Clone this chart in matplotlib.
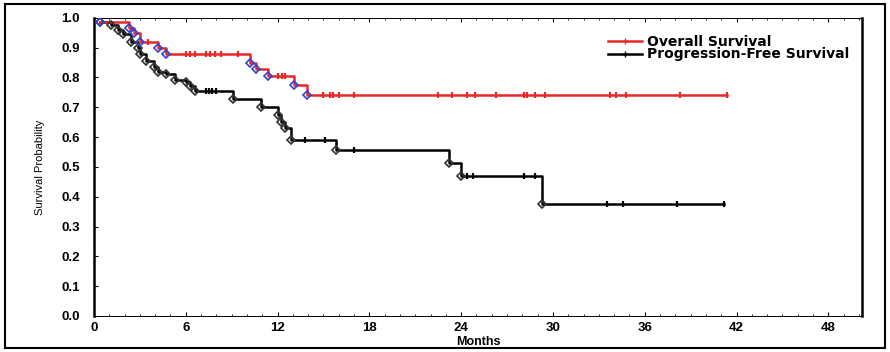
import numpy as np
import matplotlib
matplotlib.use('Agg')
import matplotlib.pyplot as plt
from matplotlib.patches import Rectangle
from matplotlib.lines import Line2D

# Overall survival: event times (months) and survival after each event
os_times = [0.4, 2.3, 2.6, 3.0, 4.2, 4.7, 10.2, 10.6, 11.4, 13.1, 13.9]
os_surv = [0.985, 0.965, 0.95, 0.92, 0.90, 0.88, 0.85, 0.83, 0.805, 0.775, 0.74]
os_censored = [3.5, 6.0, 6.3, 6.6, 7.3, 7.6, 7.9, 8.3, 9.4, 12.0, 12.3, 12.5,
               15.0, 15.45, 15.65, 16.0, 17.0, 22.5, 23.4, 24.4, 24.9, 26.3,
               28.1, 28.3, 28.8, 29.5, 33.7, 34.1, 34.8, 38.3, 41.4]

# Progression-free survival
pfs_times = [0.4, 1.1, 1.6, 1.9, 2.4, 2.9, 3.0, 3.4, 3.9, 4.2, 4.7, 5.3, 6.0,
             6.3, 6.6, 9.1, 10.9, 12.0, 12.2, 12.5, 12.9, 15.8, 23.2, 24.0, 29.3]
pfs_surv = [0.987, 0.975, 0.96, 0.945, 0.92, 0.90, 0.88, 0.855, 0.835, 0.82,
            0.81, 0.79, 0.785, 0.77, 0.753, 0.728, 0.70, 0.675, 0.65, 0.63,
            0.59, 0.557, 0.514, 0.47, 0.376]
pfs_censored = [7.3, 7.5, 7.7, 8.0, 13.8, 15.1, 17.0, 24.4, 24.8, 28.1, 28.8,
                33.5, 34.6, 38.1, 41.2]

x_ticks = [0, 6, 12, 18, 24, 30, 36, 42, 48]
y_ticks = [0.0, 0.1, 0.2, 0.3, 0.4, 0.5, 0.6, 0.7, 0.8, 0.9, 1.0]


def surv_at(times, surv, t):
    idx = np.searchsorted(times, t, side='right') - 1
    return np.array(surv)[idx]


def draw_curve(ax, times, surv, censored, color, event_color):
    end = max(max(censored), times[-1])
    xs = list(times) + [end]
    ys = list(surv) + [surv[-1]]
    ax.step(xs, ys, where='post', color=color, lw=1.8, zorder=3)
    ax.plot(censored, surv_at(times, surv, censored), ls='none', marker='|',
            ms=5, mew=1.6, color=color, zorder=4)
    ax.plot(times, surv, ls='none', marker='D', ms=4.5, mfc='none',
            mec=event_color, mew=1.2, zorder=5)


fig = plt.figure(figsize=(8.9, 3.52), dpi=100)
ax = fig.add_axes([0.1056, 0.1023, 0.863, 0.847])

draw_curve(ax, pfs_times, pfs_surv, pfs_censored, 'black', '#333333')
draw_curve(ax, os_times, os_surv, os_censored, '#e82828', '#3344cc')

ax.set_xlim(0, 50.2)
ax.set_ylim(0, 1.0)
ax.set_xticks(x_ticks)
ax.set_yticks(y_ticks)
ax.set_yticklabels([f'{v:.1f}' for v in y_ticks])
ax.set_xticks(np.arange(0, 50.2, 1), minor=True)
ax.tick_params(axis='both', which='major', direction='in', length=3,
               labelsize=9.5, top=True)
ax.tick_params(axis='y', which='major', pad=10)
ax.tick_params(axis='x', which='major', pad=4)
ax.tick_params(axis='x', which='minor', direction='in', length=1.5, top=True)
for lab in ax.get_xticklabels() + ax.get_yticklabels():
    lab.set_fontweight('bold')
    lab.set_family('Liberation Sans')

ax.spines['left'].set_linewidth(1.8)
ax.spines['right'].set_linewidth(1.8)
ax.spines['top'].set_linewidth(0.7)
ax.spines['bottom'].set_linewidth(0.7)

ax.set_xlabel('Months', fontsize=9, fontweight='bold',
              family='Liberation Sans', labelpad=2)
ax.set_ylabel('Survival Probability', fontsize=8,
              family=['Liberation Sans Narrow', 'Liberation Sans'], labelpad=12)

handles = [Line2D([0], [0], color='#e82828', marker='+', ms=5, lw=1.8),
           Line2D([0], [0], color='black', marker='+', ms=5, lw=1.8)]
ax.legend(handles, ['Overall Survival', 'Progression-Free Survival'],
          loc='upper right', bbox_to_anchor=(1.0, 0.985), frameon=False,
          prop={'family': 'DejaVu Sans', 'weight': 'bold', 'size': 10},
          handlelength=2.4, labelspacing=-0.1, handletextpad=0.4)

fig.patches.append(Rectangle((0.006, 0.012), 0.988, 0.978,
                             transform=fig.transFigure, fill=False,
                             lw=1.5, ec='black'))

fig.savefig('out.png', dpi=100)
